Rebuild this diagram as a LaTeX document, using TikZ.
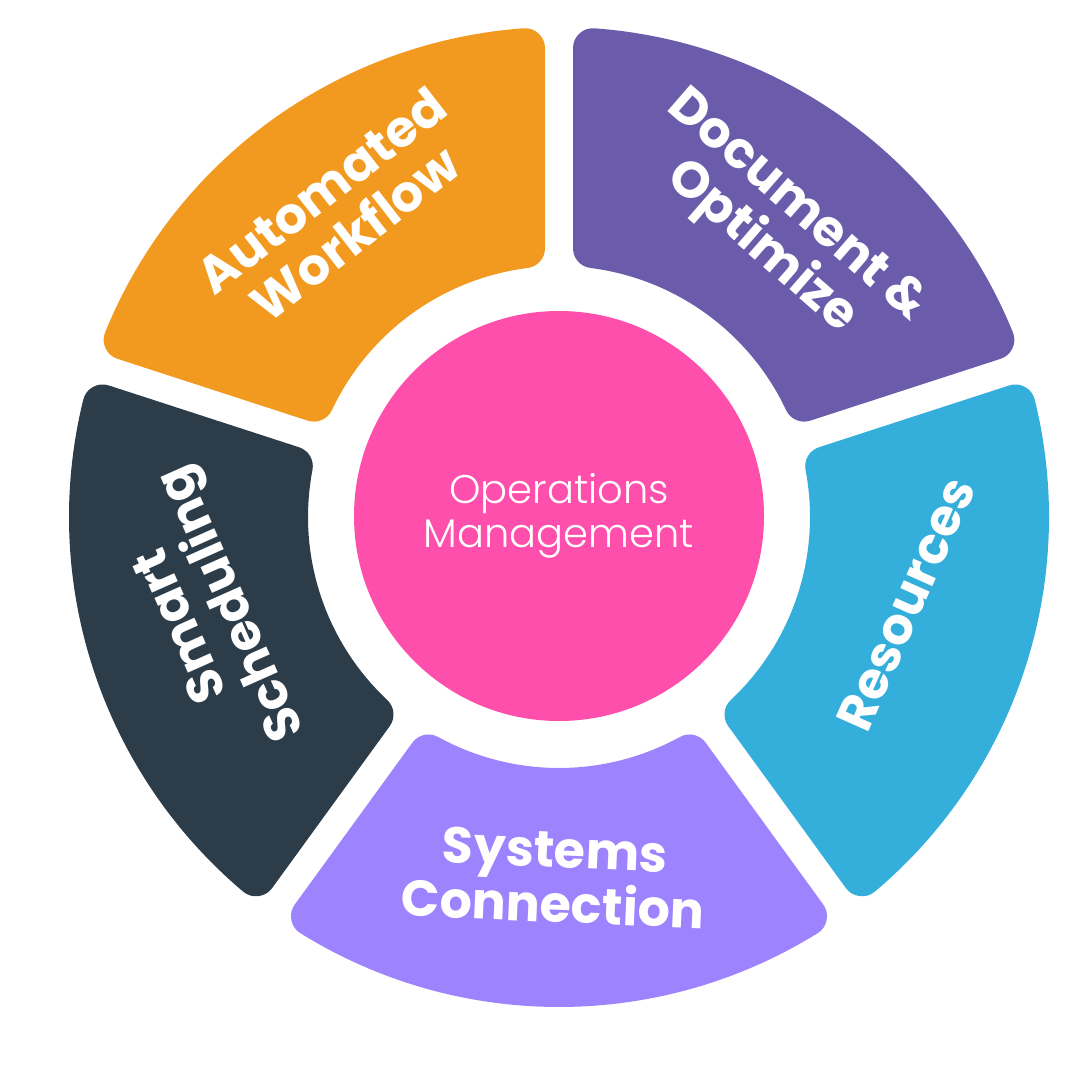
\documentclass[tikz,border=0pt]{standalone}
\usepackage{fontspec}
\setmainfont{Poppins}
\newfontfamily\lightfont{Poppins Light}

\definecolor{purpleseg}{RGB}{106,92,171}
\definecolor{orangeseg}{RGB}{242,154,31}
\definecolor{darkseg}{RGB}{44,60,72}
\definecolor{lilacseg}{RGB}{157,132,254}
\definecolor{blueseg}{RGB}{52,174,219}
\definecolor{pinkhub}{RGB}{255,79,173}

\tikzset{
  segtext/.style={text=white, align=center, inner sep=0.75pt, font=\fontsize{38}{41}\selectfont\bfseries},
  segment/.style={fill=#1, draw=#1, line width=30pt, line join=round},
}

\begin{document}
\begin{tikzpicture}[x=0.75pt,y=0.75pt,yscale=-1,xscale=1]
\useasboundingbox (0,0) rectangle (1080,1080);

%Shape: Ring segments (from angle / to angle / colour), shrunk by the corner radius
\begin{scope}[shift={(559,517)}]
\foreach \a/\b/\col in {-90/-18/purpleseg, -162/-90/orangeseg, 126/198/darkseg, 54/126/lilacseg, -18/54/blueseg}{
  \filldraw [segment=\col] ({\a+asin(34/271)}:271) -- ({\a+asin(34/470)}:470) arc [start angle={\a+asin(34/470)}, end angle={\b-asin(34/470)}, radius=470] -- ({\b-asin(34/271)}:271) arc [start angle={\b-asin(34/271)}, end angle={\a+asin(34/271)}, radius=271] -- cycle ;
}
\end{scope}

%Shape: Circle
\node (ops) [circle, fill=pinkhub, minimum size=307.5pt, inner sep=0pt, text=white, align=center, font=\lightfont\fontsize{30}{33}\selectfont] at (559,516) {Operations\\Management};

% Text Node
\node (auto) [segtext, rotate=38] at (338,212) {Automated\\Workflow};
% Text Node
\node (doc) [segtext, rotate=-41] at (778,228) {Document \&\\Optimize};
% Text Node
\node (smart) [segtext, rotate=114] at (210,613) {Smart\\Scheduling};
% Text Node
\node (res) [segtext, rotate=66] at (906,604) {Resources};
% Text Node
\node (sys) [segtext, rotate=-2.5] at (554,877) {Systems\\Connection};

\end{tikzpicture}
\end{document}
